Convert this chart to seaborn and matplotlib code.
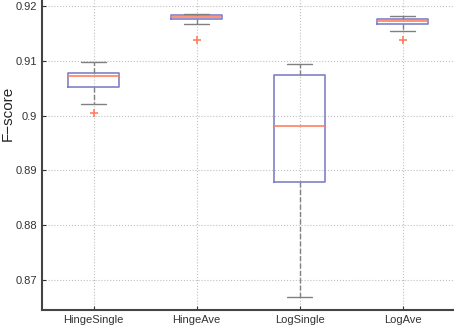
import numpy as np
import pandas as pd
import matplotlib
matplotlib.use("Agg")
import matplotlib.pyplot as plt
import seaborn as sns

methods = ["HingeSingle", "HingeAve", "LogSingle", "LogAve"]
hinge_single = [0.90047, 0.90206, 0.90516, 0.9062, 0.90717, 0.9074, 0.90772, 0.9088, 0.9097]
hinge_ave = [0.9138, 0.91666, 0.91757, 0.9178, 0.91794, 0.9181, 0.9183, 0.9184, 0.91849]
log_single = [0.86684, 0.8800, 0.88783, 0.8930, 0.89805, 0.9030, 0.90735, 0.9085, 0.90942]
log_ave = [0.9138, 0.91538, 0.91672, 0.9170, 0.91732, 0.9175, 0.91763, 0.9179, 0.91823]
yticks = [0.87, 0.88, 0.89, 0.9, 0.91, 0.92]

df = pd.DataFrame({
    "method": np.repeat(methods, 9),
    "fscore": hinge_single + hinge_ave + log_single + log_ave,
})

sns.set_style("white")
plt.rcParams["font.family"] = ["Liberation Sans", "DejaVu Sans"]

box_col = "#8080c8"
med_col = "#ff7f5f"
grey = "#808080"

fig = plt.figure(figsize=(4.54, 3.26), dpi=100)
ax = fig.add_axes([42 / 454, 16 / 326, 1 - 42 / 454, 1 - 16 / 326])

sns.boxplot(data=df, x="method", y="fscore", order=methods, ax=ax,
            fill=False, width=0.5, whis=1.6, linewidth=1.2,
            boxprops=dict(color=box_col),
            medianprops=dict(color=med_col, linewidth=1.2),
            whiskerprops=dict(color=grey, linestyle="--", linewidth=1),
            capprops=dict(color=grey, linewidth=1),
            flierprops=dict(marker="+", markeredgecolor=med_col, markersize=6,
                            markeredgewidth=1.2))

ax.set_xlim(-0.5, 3.5)
ax.set_ylim(0.86453, 0.9211)
ax.set_yticks(yticks)
ax.set_yticklabels([f"{v:g}" for v in yticks])
ax.set_xlabel("")
ax.set_ylabel("F\u2212score", fontsize=11)
ax.yaxis.set_label_coords(-27 / 412, 0.635)
ax.grid(True, linestyle=":", color="#c0c0c0", linewidth=0.8)
ax.set_axisbelow(True)
ax.tick_params(direction="in", length=3, labelsize=8, colors="#333333",
               left=True, bottom=True)
for s in ["top", "right"]:
    ax.spines[s].set_visible(False)
for s in ["left", "bottom"]:
    ax.spines[s].set_color("#444444")
    ax.spines[s].set_linewidth(1.5)

fig.savefig("out.png", dpi=100)
